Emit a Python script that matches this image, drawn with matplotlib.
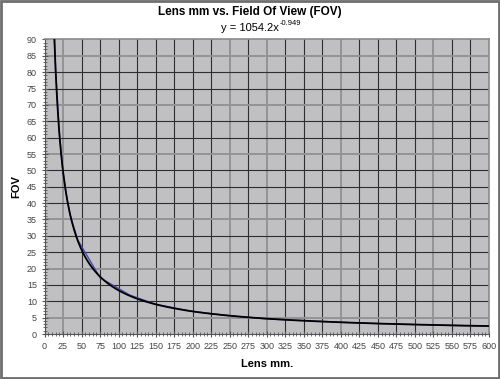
import numpy as np
import matplotlib.pyplot as plt
from matplotlib.patches import Rectangle

plt.rcParams['font.family'] = ['Liberation Sans', 'DejaVu Sans']

# data
lens_mm = [12, 15, 20, 25, 30, 35, 45, 75, 115, 150, 200, 250, 300, 350, 400, 450, 500, 550, 600]
fov = [99.5, 80.5, 61.5, 49.5, 41.8, 36.0, 28.7, 17.2, 11.9, 9.1, 6.9, 5.6, 4.6, 4.1, 3.6, 3.2, 2.9, 2.6, 2.4]

# power trendline as printed on the chart
trend_a = 1054.2
trend_b = -0.949

x_ticks = list(range(0, 601, 25))
y_ticks = list(range(0, 91, 5))
x_gray = [25, 250, 300, 400, 525]
y_gray = [85, 70, 55, 35, 20, 5]

xt = np.linspace(lens_mm[0], lens_mm[-1], 400)
yt = trend_a * xt ** trend_b

fig = plt.figure(figsize=(5, 3.79), dpi=100)
fig.patch.set_facecolor('white')
ax = fig.add_axes([0.089, 0.1187, 0.889, 0.7771])
ax.set_facecolor('#c0bfc2')

for v in x_ticks[1:-1]:
    if v in x_gray:
        ax.axvline(v, color='#939295', lw=1.4, zorder=1)
    else:
        ax.axvline(v, color='#2e2e2e', lw=0.8, zorder=1)
for v in y_ticks[1:-1]:
    if v in y_gray:
        ax.axhline(v, color='#939295', lw=1.4, zorder=1)
    else:
        ax.axhline(v, color='#2e2e2e', lw=0.8, zorder=1)

ax.plot(lens_mm, fov, color='#4848b0', lw=1.0, zorder=2)
ax.plot(xt, yt, color='black', lw=1.3, zorder=3)

ax.set_xlim(0, 600)
ax.set_ylim(0, 90)
ax.set_xticks(x_ticks)
ax.set_yticks(y_ticks)
ax.set_xticks(range(0, 601, 5), minor=True)
ax.set_yticks(range(0, 91, 1), minor=True)
ax.tick_params(which='major', direction='inout', length=5, width=0.8, color='#555555',
               labelsize=6.5, labelcolor='#444444', pad=3)
ax.tick_params(which='minor', direction='inout', length=3, width=0.6, color='#555555')

for side in ['top', 'right']:
    ax.spines[side].set_color('#8a898c')
    ax.spines[side].set_linewidth(1.2)
for side in ['left', 'bottom']:
    ax.spines[side].set_color('#555555')
    ax.spines[side].set_linewidth(0.8)

ax.set_xlabel('Lens mm.', fontsize=8, fontweight='bold', labelpad=6)
ax.set_ylabel('FOV', fontsize=8, fontweight='bold', labelpad=4)

fig.text(0.5, 0.968, 'Lens mm vs. Field Of View (FOV)', ha='center', va='center',
         fontsize=8.5, fontweight='bold')
fig.text(0.558, 0.925, 'y = %.1fx' % trend_a, ha='right', va='center', fontsize=8)
fig.text(0.559, 0.937, '%.3f' % trend_b, ha='left', va='center', fontsize=5.5)

fig.add_artist(Rectangle((0.002, 0.003), 0.996, 0.994, transform=fig.transFigure,
                         fill=False, edgecolor='#6e6e6e', lw=2))

fig.savefig('out.png', dpi=100)
